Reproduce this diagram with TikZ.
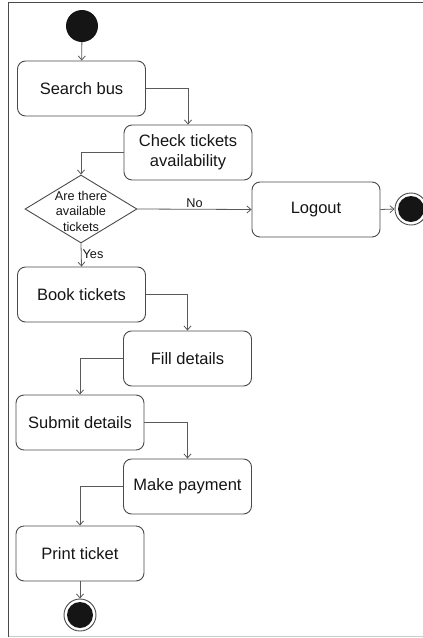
\documentclass[tikz,border=0pt]{standalone}
\usepackage{fontspec}
\setmainfont{Liberation Sans}
\usetikzlibrary{shapes.geometric,arrows.meta}

\definecolor{edgegray}{HTML}{4A4A4A}
\definecolor{linegray}{HTML}{5A5A5A}
\definecolor{inkblack}{HTML}{151515}

\tikzset{
  activity/.style={draw=edgegray, line width=0.9pt, rounded corners=8pt,
    minimum width=128pt, minimum height=55pt, inner sep=2pt, align=center,
    text=inkblack, font=\fontsize{16.5pt}{20pt}\selectfont},
  decision/.style={draw=edgegray, line width=0.9pt, diamond, aspect=1.647,
    minimum width=112pt, minimum height=68pt, inner sep=0pt},
  flow/.style={draw=linegray, line width=0.8pt,
    -{Straight Barb[length=4pt,width=7pt]}},
  startnode/.style={circle, fill=inkblack, minimum size=32pt, inner sep=0pt},
  endnode/.style={circle, draw=edgegray, line width=0.9pt, fill=white,
    minimum size=32pt, inner sep=0pt,
    path picture={\fill[inkblack] (path picture bounding box.center) circle (13pt);}},
  guard/.style={font=\fontsize{12.7pt}{15.5pt}\selectfont, text=inkblack, inner sep=1pt}
}

\begin{document}
\begin{tikzpicture}[x=1pt, y=-1pt]
  \useasboundingbox (0,0) rectangle (423,638);
  % frame
  \draw[edgegray, line width=1.3pt] (423,2.5) -- (8.5,2.5) -- (8.5,636.5);
  \draw[gray!40, line width=1.2pt] (8.5,636.5) -- (423,636.5);

  % nodes
  \node[startnode] (start) at (82,26) {};
  \node[activity] (search) at (81.5,88.5) {Search bus};
  \node[activity] (check) at (188,152.5) {Check tickets\\availability};
  \node[decision] (dec) at (81,209) {};
  \node[guard, align=center] (dectext) at (81,211) {Are there\\available\\tickets};
  \node[activity] (logout) at (316,209.5) {Logout};
  \node[endnode] (endr) at (411,209) {};
  \node[activity] (book) at (81.5,294.5) {Book tickets};
  \node[activity] (fill) at (187.5,358.5) {Fill details};
  \node[activity] (submit) at (80,422.5) {Submit details};
  \node[activity] (pay) at (187.5,486.5) {Make payment};
  \node[activity] (print) at (80,553.5) {Print ticket};
  \node[endnode] (endb) at (80,615) {};

  % flows
  \draw[flow] (start) -- (search);
  \draw[flow] (search.east) -| (check.north);
  \draw[flow] (check.west) -| (dec.north);
  \draw[flow] (dec.east) -- node[guard, above, pos=0.5] (nolab) {No} (logout.west);
  \draw[flow] (logout.east) -- (endr.west);
  \draw[flow] (dec.south) -- node[guard, right, pos=0.45] (yeslab) {Yes} (book.north);
  \draw[flow] (book.east) -| (fill.north);
  \draw[flow] (fill.west) -| (submit.north);
  \draw[flow] (submit.east) -| (pay.north);
  \draw[flow] (pay.west) -| (print.north);
  \draw[flow] (print.south) -- (endb.north);
\end{tikzpicture}
\end{document}
